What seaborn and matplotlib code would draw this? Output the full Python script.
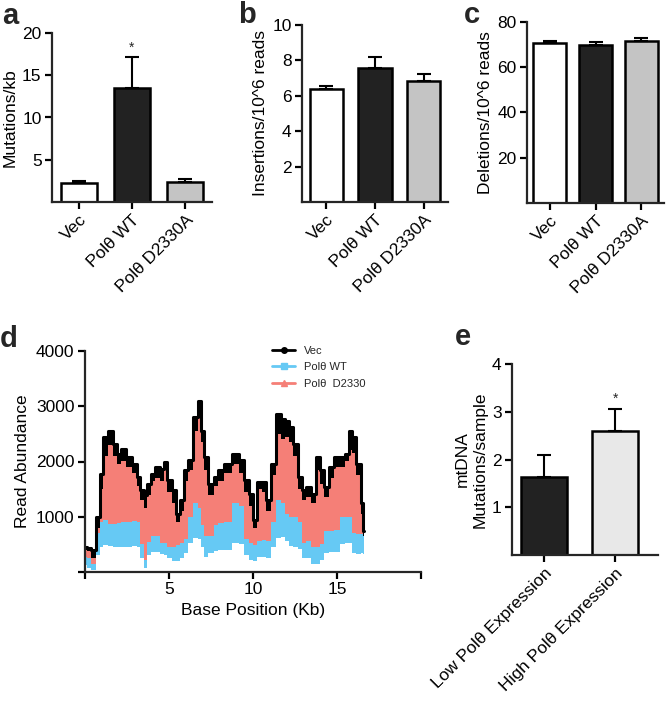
"""
Polθ mtDNA mutation panels (a-e) recreated with seaborn
"""

import numpy as np
import pandas as pd
import matplotlib
matplotlib.use("Agg")
import matplotlib.pyplot as plt
from matplotlib.lines import Line2D
import seaborn as sns


# Panels a-c: three groups
groups = ["Vec", "Polθ WT", "Polθ D2330A"]
group_colors = ["#ffffff", "#222222", "#c4c4c4"]

mut_per_kb = [2.25, 13.45, 2.38]
mut_per_kb_err = [0.18, 3.75, 0.38]

ins_reads = [6.38, 7.58, 6.85]
ins_reads_err = [0.17, 0.6, 0.38]

del_reads = [70.8, 70.0, 71.5]
del_reads_err = [0.9, 1.1, 1.6]

# Panel d: read abundance along the mtDNA
pos_kb = [0.0, 0.2, 0.5, 0.8, 1.0, 1.2, 1.5, 1.8, 2.0, 2.3,
          2.6, 3.0, 3.2, 3.4, 3.6, 3.8, 4.0, 4.3, 4.6, 4.8,
          5.0, 5.3, 5.5, 5.8, 6.0, 6.3, 6.6, 6.8, 7.0, 7.2,
          7.5, 7.8, 8.0, 8.5, 9.0, 9.3, 9.6, 9.9, 10.1, 10.4,
          10.7, 10.9, 11.2, 11.5, 11.8, 12.0, 12.3, 12.5, 12.8, 13.0,
          13.3, 13.6, 13.9, 14.1, 14.4, 14.7, 15.0, 15.3, 15.6, 15.8,
          16.0, 16.3, 16.5, 16.6]
vec_reads = [450, 440, 390, 1000, 1780, 2440, 2550, 2320, 2140, 2230,
             2080, 1960, 1720, 1480, 1400, 1600, 1780, 1900, 1870, 1990,
             1660, 1480, 1050, 1300, 1840, 2020, 2800, 3100, 2560, 2080,
             1600, 1720, 1840, 1960, 2140, 2020, 1660, 1420, 950, 1630,
             1630, 1300, 1960, 2860, 2770, 2740, 2620, 2320, 1720, 1480,
             1540, 1420, 2080, 1840, 1540, 1900, 2080, 2080, 2140, 2560,
             2440, 1960, 1240, 750]
d2330_hi = [400, 380, 250, 800, 1500, 2100, 2300, 2100, 1950, 2000,
            1900, 1800, 1550, 1300, 1150, 1400, 1650, 1700, 1650, 1850,
            1450, 1250, 900, 1100, 1650, 1850, 2550, 2950, 2350, 1850,
            1400, 1550, 1650, 1800, 1950, 1800, 1450, 1200, 800, 1500,
            1450, 1100, 1750, 2500, 2400, 2450, 2350, 2100, 1500, 1300,
            1350, 1250, 1850, 1600, 1350, 1700, 1900, 1900, 2000, 2200,
            2150, 1750, 1050, 650]
wt_hi = [270, 260, 150, 700, 900, 950, 870, 870, 880, 900,
         900, 920, 900, 500, 210, 550, 650, 650, 530, 520,
         460, 450, 480, 520, 600, 1000, 1250, 1150, 850, 650,
         650, 850, 880, 900, 1240, 1200, 600, 520, 480, 560,
         580, 560, 900, 1300, 1250, 1050, 1000, 1000, 900, 520,
         560, 460, 450, 500, 740, 750, 760, 1000, 1000, 1000,
         700, 680, 690, 650]
wt_lo = [120, 80, 40, 300, 450, 480, 470, 460, 460, 460,
         460, 470, 450, 250, 80, 300, 360, 360, 330, 300,
         250, 200, 200, 250, 350, 520, 620, 600, 450, 270,
         350, 380, 400, 400, 520, 500, 300, 220, 200, 270,
         280, 260, 450, 620, 640, 560, 470, 450, 420, 250,
         250, 150, 140, 220, 350, 360, 370, 500, 520, 520,
         350, 330, 340, 330]

# Panel e: patient groups
expr_groups = ["Low Polθ Expression", "High Polθ Expression"]
expr_colors = ["#222222", "#e8e8e8"]
mtdna_mut = [1.64, 2.60]
mtdna_mut_err = [0.45, 0.46]


sns.set_theme(style="ticks")
plt.rcParams["font.family"] = ["Liberation Sans", "DejaVu Sans"]
plt.rcParams["axes.linewidth"] = 1.6
plt.rcParams["xtick.major.width"] = 1.6
plt.rcParams["ytick.major.width"] = 1.6
plt.rcParams["xtick.major.size"] = 5
plt.rcParams["ytick.major.size"] = 5
plt.rcParams["xtick.major.pad"] = 2.5
plt.rcParams["ytick.major.pad"] = 2.5
plt.rcParams["xtick.color"] = "black"
plt.rcParams["ytick.color"] = "black"

FS = 12.5

W, H = 666, 701
fig = plt.figure(figsize=(W / 100, H / 100), dpi=100)


def px_axes(left, top, right, bottom):
    return fig.add_axes([left / W, 1 - bottom / H, (right - left) / W, (bottom - top) / H])


"""
Bar chart with upper error bars only
"""
def bar_panel(ax, cats, vals, errs, colors, width, ylim, yticks, ylabel, fs=FS):
    sns.barplot(x=cats, y=vals, hue=cats, palette=colors, legend=False,
                edgecolor="black", linewidth=1.8, width=width, ax=ax)
    ax.errorbar(range(len(cats)), vals, yerr=[np.zeros(len(vals)), errs],
                fmt="none", ecolor="black", elinewidth=1.5, capsize=5, capthick=1.5)
    ax.set_ylim(*ylim)
    ax.set_yticks(yticks)
    ax.set_xlim(-0.5, len(cats) - 0.5)
    ax.set_ylabel(ylabel, fontsize=fs, color="black", labelpad=3)
    ax.set_xlabel("")
    ax.tick_params(labelsize=fs, colors="black")
    plt.setp(ax.get_xticklabels(), rotation=45, ha="right", rotation_mode="anchor")
    sns.despine(ax=ax)


# Panel a
ax_a = px_axes(52, 33, 212, 202)
bar_panel(ax_a, groups, mut_per_kb, mut_per_kb_err, group_colors, 0.68,
          (0, 20), [5, 10, 15, 20], "Mutations/kb")
ax_a.text(1, 17.4, "*", ha="center", va="bottom", fontsize=10)

# Panel b
ax_b = px_axes(302, 25, 448, 202)
bar_panel(ax_b, groups, ins_reads, ins_reads_err, group_colors, 0.68,
          (0, 10), [2, 4, 6, 8, 10], "Insertions/10^6 reads")

# Panel c
ax_c = px_axes(527, 22, 664, 203)
bar_panel(ax_c, groups, del_reads, del_reads_err, group_colors, 0.72,
          (0, 80), [20, 40, 60, 80], "Deletions/10^6 reads")

# Panel d
ax_d = px_axes(85, 351, 421, 572)
blue = "#66c9f4"
red = "#f57f77"
ax_d.fill_between(pos_kb, wt_hi, d2330_hi, step="mid", color=red, lw=0)
ax_d.fill_between(pos_kb, wt_lo, wt_hi, step="mid", color=blue, lw=0)
ax_d.fill_between(pos_kb, d2330_hi, vec_reads, step="mid", color="black", lw=0)
df_vec = pd.DataFrame({"pos": pos_kb, "reads": vec_reads})
sns.lineplot(data=df_vec, x="pos", y="reads", color="black", lw=2.2,
             drawstyle="steps-mid", ax=ax_d)
ax_d.set_xlim(0, 20)
ax_d.set_ylim(0, 4000)
ax_d.set_xticks([0, 5, 10, 15, 20])
ax_d.set_xticklabels(["", "5", "10", "15", ""])
ax_d.set_yticks([0, 1000, 2000, 3000, 4000])
ax_d.set_yticklabels(["", "1000", "2000", "3000", "4000"])
ax_d.tick_params(labelsize=FS, colors="black")
ax_d.set_xlabel("Base Position (Kb)", fontsize=FS, color="black")
ax_d.set_ylabel("Read Abundance", fontsize=FS, color="black")
sns.despine(ax=ax_d)
handles = [Line2D([], [], color="black", marker="o", lw=2, ms=4),
           Line2D([], [], color=blue, marker="s", lw=2, ms=4),
           Line2D([], [], color=red, marker="^", lw=2, ms=4)]
ax_d.legend(handles, ["Vec", "Polθ WT", "Polθ  D2330"], loc="upper left",
            bbox_to_anchor=(0.54, 1.05), frameon=False, fontsize=8,
            handlelength=2.1, handletextpad=0.8, labelspacing=0.6, borderpad=0)

# Panel e
ax_e = px_axes(512, 364, 658, 555)
bar_panel(ax_e, expr_groups, mtdna_mut, mtdna_mut_err, expr_colors, 0.64,
          (0, 4), [1, 2, 3, 4], "mtDNA\nMutations/sample")
ax_e.set_xlim(-0.45, 1.6)
ax_e.text(1, 3.12, "*", ha="center", va="bottom", fontsize=10)

# Panel letters
for x, y, letter in [(2, 24, "a"), (238, 23, "b"), (464, 23, "c"), (0, 347, "d"), (455, 345, "e")]:
    fig.text(x / W, 1 - y / H, letter, fontsize=21, fontweight="bold", va="baseline")

plt.savefig("out.png", dpi=100)
